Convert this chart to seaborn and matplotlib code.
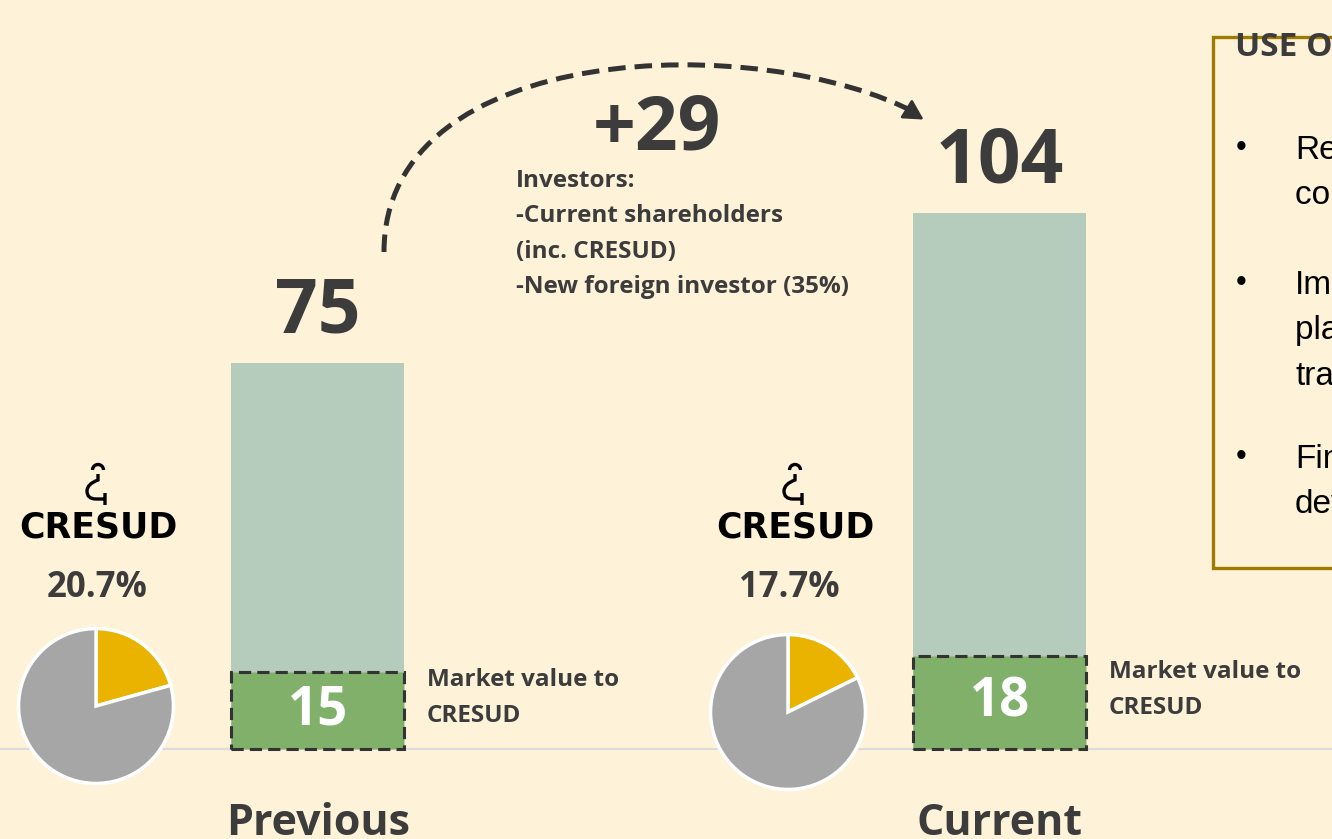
import matplotlib
matplotlib.use("Agg")
import matplotlib.pyplot as plt
import matplotlib.transforms as mtransforms
from matplotlib.path import Path
from matplotlib.patches import PathPatch, Rectangle, Arc
import seaborn as sns
import pandas as pd

# data
stages = ["Previous", "Current"]
total_value = [75, 104]
cresud_value = [15, 18]
cresud_share = [20.7, 17.7]
increase = 29
investor_note = "Investors:\n-Current shareholders\n(inc. CRESUD)\n-New foreign investor (35%)"
cresud_note = "Market value to\nCRESUD"
box_title = "USE OF PROCEEDS"
box_items = ["Reduce\nconsolidated debt", "Improve\nplanting and\ntransport", "Finance\ndevelopment"]

BG = "#FEF3D8"
DARK = "#3C3C3C"
TEAL = "#B5CBBC"
GREEN = "#80B06A"
YELLOW = "#E9B300"
GRAY = "#A6A6A6"
FONT = "Open Sans"

W, H = 1332, 839
sns.set_theme(style="white")
plt.rcParams["font.family"] = [FONT, "DejaVu Sans"]

fig = plt.figure(figsize=(W / 100, H / 100), dpi=100, facecolor=BG)
# pixel transform with origin at top-left
px = mtransforms.Affine2D().scale(1 / W, -1 / H).translate(0, 1) + fig.transFigure

ax = fig.add_axes([0, 0, 1, 1])
ax.set_facecolor("none")

df = pd.DataFrame({"stage": stages, "total": total_value, "cresud": cresud_value})
bw = 173 / 682
sns.barplot(data=df, x="stage", y="total", color=TEAL, saturation=1, width=bw,
            errorbar=None, linewidth=0, ax=ax)
sns.barplot(data=df, x="stage", y="cresud", color=GREEN, saturation=1, width=bw,
            errorbar=None, edgecolor="#333333", linewidth=2.2, linestyle=(0, (4, 2)), ax=ax)

ax.set_xlim(-318 / 682, (W - 318) / 682)
ax.set_ylim(-90 / 5.15, 749 / 5.15)
ax.axhline(0, color="#DCDCDC", lw=1.6, zorder=0)
ax.axis("off")

for i, (tot, cr) in enumerate(zip(total_value, cresud_value)):
    ax.annotate(str(tot), (i, tot), xytext=(0, 22), textcoords="offset points",
                ha="center", va="baseline", fontsize=54, fontweight="bold", color=DARK)
    ax.text(i, cr / 2, str(cr), ha="center", va="center", fontsize=38,
            fontweight="bold", color="white")
    ax.annotate(cresud_note, (i + bw / 2, cr / 2), xytext=(16, 9), textcoords="offset points",
                ha="left", va="center", fontsize=17.5, fontweight="bold", color=DARK,
                linespacing=1.7)
    ax.annotate(stages[i], (i, 0), xytext=(0, -62), textcoords="offset points",
                ha="center", va="baseline", fontsize=31, fontweight="bold", color=DARK)

# increase label and note
fig.text(657 / W, 1 - 150 / H, f"+{increase}", ha="center", va="baseline",
         fontsize=54, fontweight="bold", color=DARK)
fig.text(516 / W, 1 - 169 / H, investor_note, ha="left", va="top", fontsize=17.5,
         fontweight="bold", color=DARK, linespacing=1.63)

# dashed arc arrow
verts = [(384, 252), (384, 40), (760, 30), (918, 114)]
arc_path = Path(verts, [Path.MOVETO, Path.CURVE4, Path.CURVE4, Path.CURVE4])
fig.patches.append(PathPatch(arc_path, transform=px, fill=False, edgecolor="#333333",
                             lw=3.6, linestyle=(0, (3.5, 1.8))))
ax.annotate("", xy=(926 / W, 1 - 121 / H), xytext=(905 / W, 1 - 108 / H),
            xycoords="figure fraction", textcoords="figure fraction",
            arrowprops=dict(arrowstyle="-|>,head_length=1.0,head_width=0.55",
                            color="#333333", lw=2))

# pies with CRESUD labels
pie_centers = [(96, 706), (788, 712)]
logo_x = [98, 795]
for share, (cx, cy), lx in zip(cresud_share, pie_centers, logo_x):
    r = 79
    pax = fig.add_axes([(cx - r) / W, 1 - (cy + r) / H, 2 * r / W, 2 * r / H])
    pax.pie([share, 100 - share], colors=[YELLOW, GRAY], startangle=90, counterclock=False,
            wedgeprops=dict(edgecolor="white", linewidth=2.5))
    pax.set_xlim(-1.02, 1.02)
    pax.set_ylim(-1.02, 1.02)
    pax.set_aspect("equal")
    pax.axis("off")
    fig.text((cx + 1) / W, 1 - 588 / H, f"{share}%", ha="center", va="center",
             fontsize=25, fontweight="bold", color=DARK)
    fig.text(lx / W, 1 - 528 / H, "CRESUD", ha="center", va="center", fontsize=25,
             fontweight="bold", color="black", family="DejaVu Sans")
    # small logo mark
    fig.patches.append(Arc((lx, 470), 11, 11, theta1=180, theta2=360, transform=px,
                           color="black", lw=2.4))
    mark = Path([(lx, 474), (lx, 480), (lx - 11, 484), (lx - 11, 491),
                 (lx - 11, 499), (lx - 2, 499), (lx + 7, 499), (lx + 7, 493), (lx + 7, 505)],
                [Path.MOVETO, Path.LINETO, Path.CURVE3, Path.CURVE3,
                 Path.CURVE3, Path.CURVE3, Path.LINETO, Path.MOVETO, Path.LINETO])
    fig.patches.append(PathPatch(mark, transform=px, fill=False, edgecolor="black", lw=2.4))

# use of proceeds box
fig.patches.append(Rectangle((1213, 37), 300, 531, transform=px, facecolor=BG,
                             edgecolor="#A07A00", lw=2.4))
fig.text(1235 / W, 1 - 48 / H, box_title, ha="left", va="center", fontsize=24,
         fontweight="bold", color=DARK)
for item, y in zip(box_items, [148, 283, 457]):
    fig.text(1236 / W, 1 - y / H, "\u2022", ha="left", va="center", fontsize=22,
             color="black", family="Liberation Sans")
    fig.text(1295 / W, 1 - (y - 13) / H, item, ha="left", va="top", fontsize=24,
             color="black", family="Liberation Sans", linespacing=1.6)

fig.savefig("out.png", dpi=100, facecolor=BG)
